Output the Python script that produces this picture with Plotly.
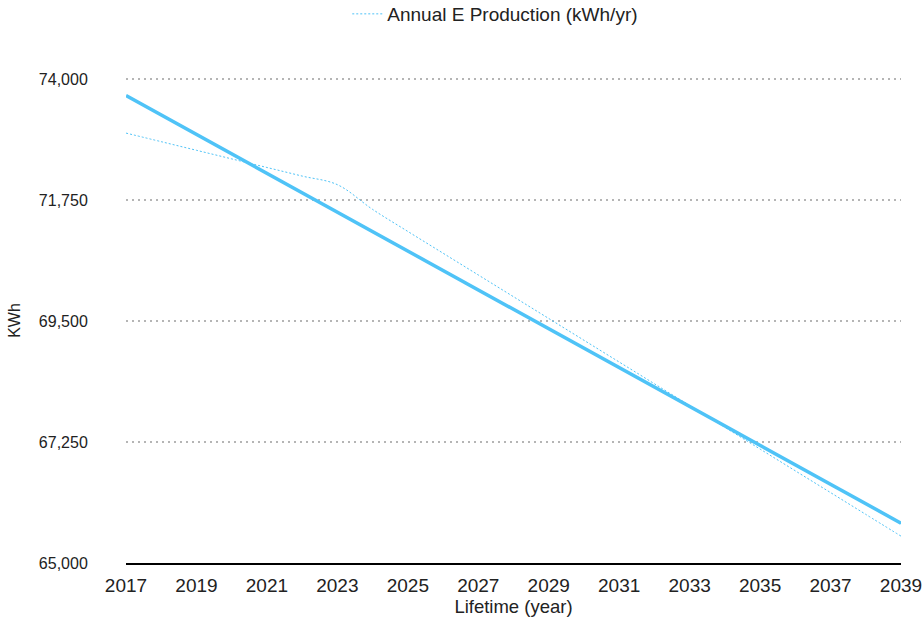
import plotly.graph_objects as go

years = list(range(2017, 2040))
annual_production = [73000, 72840, 72680, 72520, 72360, 72200, 72040, 71580, 71170,
                     70765, 70360, 69955, 69550, 69145, 68740, 68335, 67930, 67525,
                     67120, 66715, 66310, 65905, 65500]
trend_years = [2017, 2039]
trend_values = [73698, 65742]
y_ticks = [65000, 67250, 69500, 71750, 74000]
x_ticks = list(range(2017, 2040, 2))

blue = "#4FC3F7"
font = "Liberation Sans, Arial, sans-serif"
txt = "#222222"

fig = go.Figure()
fig.add_trace(go.Scatter(
    x=trend_years, y=trend_values, mode="lines",
    line=dict(color=blue, width=3.5), showlegend=False, hoverinfo="skip"))
fig.add_trace(go.Scatter(
    x=years, y=annual_production, mode="lines", name="Annual E Production (kWh/yr)",
    line=dict(color=blue, width=1, dash="2px,2px", shape="spline", smoothing=1.0)))

fig.update_layout(
    width=924, height=632,
    margin=dict(l=126, r=23, t=78, b=69, autoexpand=False),
    paper_bgcolor="white", plot_bgcolor="white",
    font=dict(family=font, size=14, color=txt),
    legend=dict(orientation="h", x=0.536, xanchor="center", xref="container",
                y=1 - 14 / 632, yanchor="middle", yref="container",
                font=dict(size=19, color=txt), itemwidth=30),
    xaxis=dict(range=[2017, 2039], tickvals=x_ticks, ticktext=[str(v) for v in x_ticks],
               automargin=False,
               showgrid=False, zeroline=False, showline=True, linecolor="black", linewidth=1.5,
               ticks="outside", ticklen=4, tickcolor="rgba(0,0,0,0)",
               tickfont=dict(size=19, color=txt),
               title=dict(text="Lifetime (year)", font=dict(size=18.5, color=txt), standoff=6)),
    yaxis=dict(range=[65000, 74025], tickvals=y_ticks, tickformat=",",
               automargin=False,
               showgrid=True, gridcolor="#b5b5b5", griddash="2px,4px", gridwidth=2,
               zeroline=False, showline=False,
               ticks="outside", ticklen=34, tickcolor="rgba(0,0,0,0)",
               tickfont=dict(size=16, color=txt),
               title=dict(text="KWh", font=dict(size=16, color=txt), standoff=14)),
)

fig.write_html("out.html", config={"displayModeBar": False},
               post_script="document.body.style.margin='0';document.body.style.overflow='hidden';")
